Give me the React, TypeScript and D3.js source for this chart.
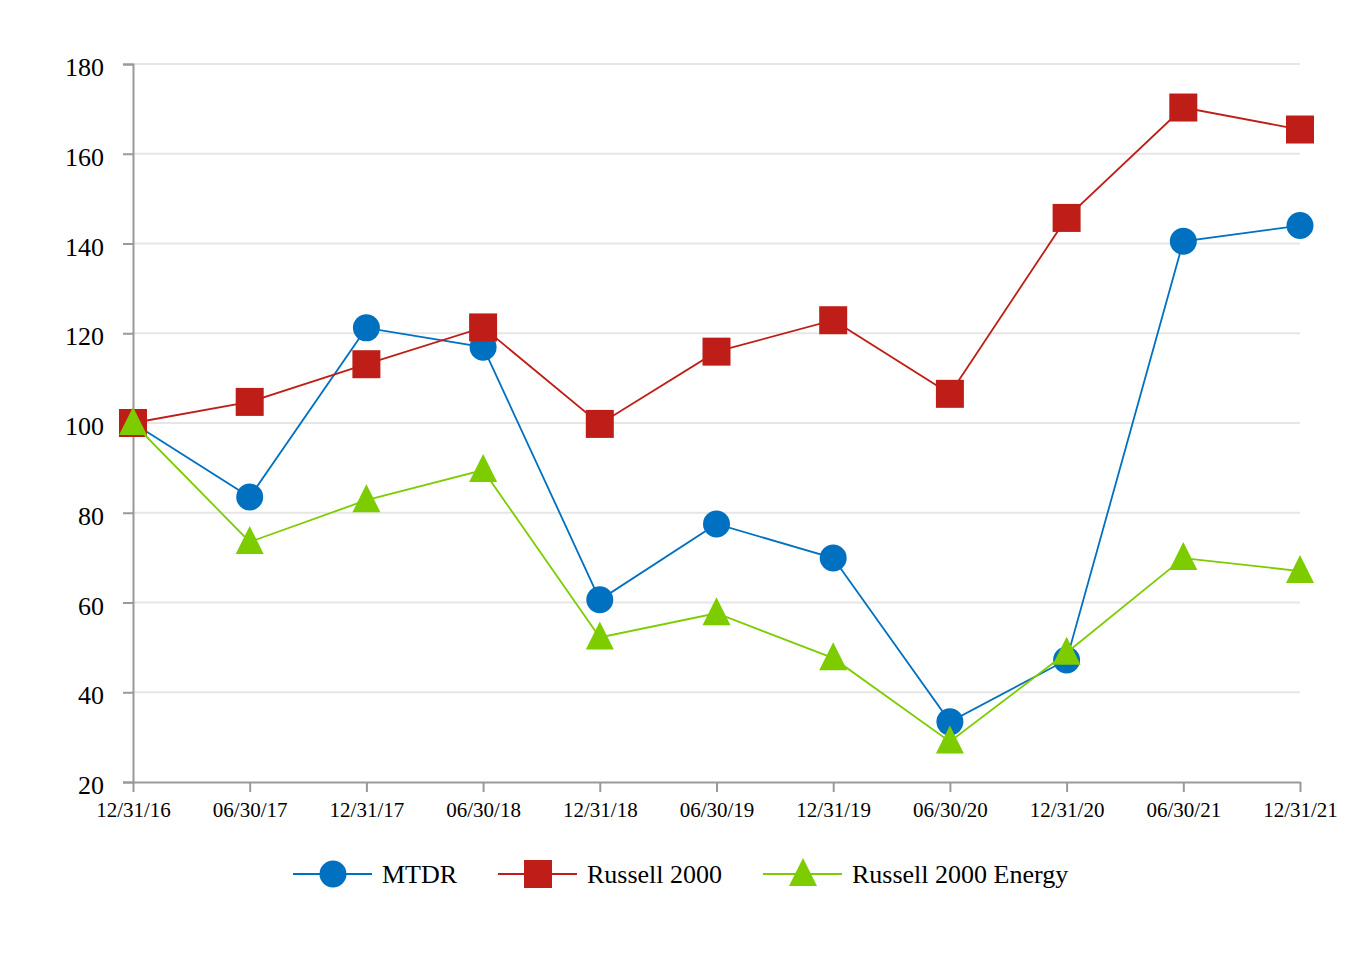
import React, { useRef, useEffect } from "react";
import * as d3 from "d3";

const dates = [
  "12/31/16", "06/30/17", "12/31/17", "06/30/18", "12/31/18", "06/30/19",
  "12/31/19", "06/30/20", "12/31/20", "06/30/21", "12/31/21",
];
const mtdr = [100, 83.5, 121.2, 116.9, 60.6, 77.5, 69.9, 33.4, 47.2, 140.5, 144.0];
const russell = [100, 104.7, 113.1, 121.3, 99.8, 115.9, 122.9, 106.5, 145.7, 170.3, 165.4];
const energy = [100, 73.5, 82.8, 89.5, 52.2, 57.6, 47.6, 29.0, 48.8, 69.9, 67.0];
const yTicks = [20, 40, 60, 80, 100, 120, 140, 160, 180];

const series = [
  { name: "MTDR", values: mtdr, color: "#0070C0", shape: "circle" },
  { name: "Russell 2000", values: russell, color: "#BE1E17", shape: "square" },
  { name: "Russell 2000 Energy", values: energy, color: "#7DCC00", shape: "triangle" },
];

const W = 1364;
const H = 960;

function drawMarker(g: any, shape: string, x: number, y: number, color: string) {
  if (shape === "circle") {
    g.append("circle").attr("cx", x).attr("cy", y).attr("r", 13.5).attr("fill", color);
  } else if (shape === "square") {
    g.append("rect").attr("x", x - 14).attr("y", y - 14).attr("width", 28).attr("height", 28).attr("fill", color);
  } else {
    g.append("path")
      .attr("d", `M${x},${y - 16}L${x + 14},${y + 12}L${x - 14},${y + 12}Z`)
      .attr("fill", color);
  }
}

const App: React.FC = () => {
  const svgRef = useRef<SVGSVGElement | null>(null);

  useEffect(() => {
    const svg = d3.select(svgRef.current);
    svg.selectAll("*").remove();

    const x = d3.scalePoint<string>().domain(dates).range([133, 1300]);
    const y = d3.scaleLinear().domain([20, 180]).range([782, 64]);

    const font = "'Liberation Serif', 'Times New Roman', serif";

    // grid
    svg.append("g")
      .selectAll("line")
      .data(yTicks.slice(1))
      .join("line")
      .attr("x1", 133).attr("x2", 1300)
      .attr("y1", (d) => y(d)).attr("y2", (d) => y(d))
      .attr("stroke", "#e6e6e6").attr("stroke-width", 2);

    // y axis
    const yAxis = svg.append("g").attr("transform", "translate(133,0)")
      .call(d3.axisLeft(y).tickValues(yTicks).tickSize(10).tickPadding(19));
    yAxis.select(".domain").attr("stroke", "#999").attr("stroke-width", 2);
    yAxis.selectAll(".tick line").attr("stroke", "#999").attr("stroke-width", 2);
    yAxis.selectAll(".tick text")
      .attr("font-family", font).attr("font-size", 26).attr("fill", "#000")
      .attr("dy", "0.45em");

    // x axis
    const xAxis = svg.append("g").attr("transform", "translate(0,782)")
      .call(d3.axisBottom(x).tickSize(10).tickPadding(10).tickSizeOuter(0));
    xAxis.select(".domain").attr("stroke", "#999").attr("stroke-width", 2);
    xAxis.selectAll(".tick line").attr("stroke", "#999").attr("stroke-width", 2);
    xAxis.selectAll(".tick text")
      .attr("font-family", font).attr("font-size", 21).attr("fill", "#000");

    const line = d3.line<number>()
      .x((_, i) => x(dates[i])!)
      .y((d) => y(d));

    series.forEach((s) => {
      const g = svg.append("g");
      g.append("path").attr("d", line(s.values)!).attr("fill", "none")
        .attr("stroke", s.color).attr("stroke-width", 1.8);
      s.values.forEach((v, i) => drawMarker(g, s.shape, x(dates[i])!, y(v), s.color));
    });

    // legend
    const legendX = [293, 498, 763];
    series.forEach((s, i) => {
      const g = svg.append("g");
      const lx = legendX[i];
      const ly = 874;
      g.append("line").attr("x1", lx).attr("x2", lx + 79).attr("y1", ly).attr("y2", ly)
        .attr("stroke", s.color).attr("stroke-width", 2);
      drawMarker(g, s.shape, lx + 40, ly, s.color);
      g.append("text").attr("x", lx + 89).attr("y", ly + 9)
        .attr("font-family", font).attr("font-size", 26).text(s.name);
    });
  }, []);

  return <svg ref={svgRef} width={W} height={H} style={{ display: "block", margin: "-8px" }} />;
};

export default App;
